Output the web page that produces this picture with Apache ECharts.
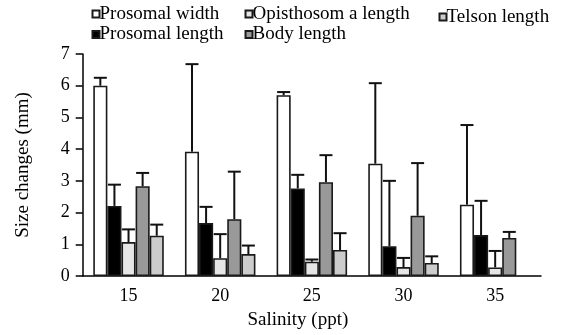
<!DOCTYPE html>
<html><head><meta charset="utf-8">
<script src="https://cdn.jsdelivr.net/npm/echarts@6/dist/echarts.min.js"></script>
<style>html,body{margin:0;padding:0;background:#fff}#c{width:565px;height:335px}</style>
</head><body><div id="c"></div>
<script>
const categories = ['15', '20', '25', '30', '35'];
const seriesNames = ['Prosomal width', 'Prosomal length', 'Opisthosom a length', 'Body length', 'Telson length'];
const prosomalWidth = [6.00, 3.92, 5.70, 3.54, 2.25];
const prosomalLength = [2.21, 1.67, 2.76, 0.94, 1.29];
const opisthosomaLength = [1.07, 0.56, 0.45, 0.28, 0.27];
const bodyLength = [2.83, 1.79, 2.96, 1.90, 1.20];
const telsonLength = [1.27, 0.69, 0.82, 0.41, null];
const prosomalWidthSD = [0.25, 2.76, 0.10, 2.54, 2.51];
const prosomalLengthSD = [0.67, 0.51, 0.43, 2.06, 1.08];
const opisthosomaLengthSD = [0.40, 0.76, 0.07, 0.29, 0.52];
const bodyLengthSD = [0.42, 1.50, 0.85, 1.66, 0.19];
const telsonLengthSD = [0.35, 0.27, 0.53, 0.21, null];
const yTicks = [0, 1, 2, 3, 4, 5, 6, 7];

const values = [prosomalWidth, prosomalLength, opisthosomaLength, bodyLength, telsonLength];
const sds = [prosomalWidthSD, prosomalLengthSD, opisthosomaLengthSD, bodyLengthSD, telsonLengthSD];
const colors = ['#ffffff', '#000000', '#e6e6e6', '#999999', '#cccccc'];
const FONT = 'Liberation Serif';
const BAR_W = 14.1;
const nS = values.length;

const chart = echarts.init(document.getElementById('c'), null, {renderer: 'canvas'});

const series = [];
values.forEach((arr, k) => {
  series.push({
    name: seriesNames[k], type: 'bar',
    barWidth: BAR_W, barGap: '0%',
    data: arr.map(v => v == null ? '-' : v),
    itemStyle: {color: colors[k], borderColor: '#1a1a1a', borderWidth: 1.6},
    emphasis: {disabled: true}, silent: true
  });
});
values.forEach((arr, k) => {
  const data = [];
  arr.forEach((v, i) => { if (v != null && sds[k][i] != null) data.push([i, v, v + sds[k][i]]); });
  series.push({
    type: 'custom', z: 5, silent: true,
    data: data,
    renderItem: function (params, api) {
      const i = api.value(0);
      const p0 = api.coord([i, api.value(1)]);
      const p1 = api.coord([i, api.value(2)]);
      const x = p0[0] + (k - (nS - 1) / 2) * BAR_W;
      const cw = 6.5;
      return {type: 'group', children: [
        {type: 'line', shape: {x1: x, y1: p0[1], x2: x, y2: p1[1]}, style: {stroke: '#111', lineWidth: 2}},
        {type: 'line', shape: {x1: x - cw, y1: p1[1], x2: x + cw, y2: p1[1]}, style: {stroke: '#111', lineWidth: 2}}
      ]};
    }
  });
});

const legendBase = {
  orient: 'vertical', icon: 'rect', itemWidth: 7, itemHeight: 7, itemGap: 1.5, padding: 0,
  textStyle: {fontFamily: FONT, fontSize: 19, color: '#000', padding: [0, 0, 0, -5]}, selectedMode: false
};

chart.setOption({
  animation: false,
  backgroundColor: '#fff',
  legend: [
    Object.assign({}, legendBase, {left: 91.5, top: 4.5, data: [seriesNames[0], seriesNames[1]]}),
    Object.assign({}, legendBase, {left: 244.5, top: 4.5, data: [seriesNames[2], seriesNames[3]]}),
    Object.assign({}, legendBase, {left: 438.5, top: 7.5, data: [seriesNames[4]]})
  ],
  grid: {left: 82.7, right: 24, top: 54, bottom: 51.7},
  xAxis: {type: 'category', data: categories,
     axisLine: {lineStyle: {color: '#000', width: 1.5}},
     axisTick: {length: 7, lineStyle: {color: '#000', width: 1.5}},
     axisLabel: {color: '#000', fontFamily: FONT, fontSize: 18, margin: 11},
     name: 'Salinity (ppt)', nameLocation: 'middle', nameGap: 35,
     nameTextStyle: {color: '#000', fontFamily: FONT, fontSize: 19, padding: [0, 28, 0, 0]}},
  yAxis: {type: 'value', min: yTicks[0], max: yTicks[yTicks.length - 1], interval: 1,
     axisLine: {show: true, lineStyle: {color: '#000', width: 1.5}},
     axisTick: {show: true, length: 7, lineStyle: {color: '#000', width: 1.5}},
     splitLine: {show: false},
     axisLabel: {color: '#000', fontFamily: FONT, fontSize: 18, margin: 13},
     name: 'Size changes (mm)', nameLocation: 'middle', nameGap: 50, nameRotate: 90,
     nameTextStyle: {color: '#000', fontFamily: FONT, fontSize: 19}},
  series: series
});
</script></body></html>
